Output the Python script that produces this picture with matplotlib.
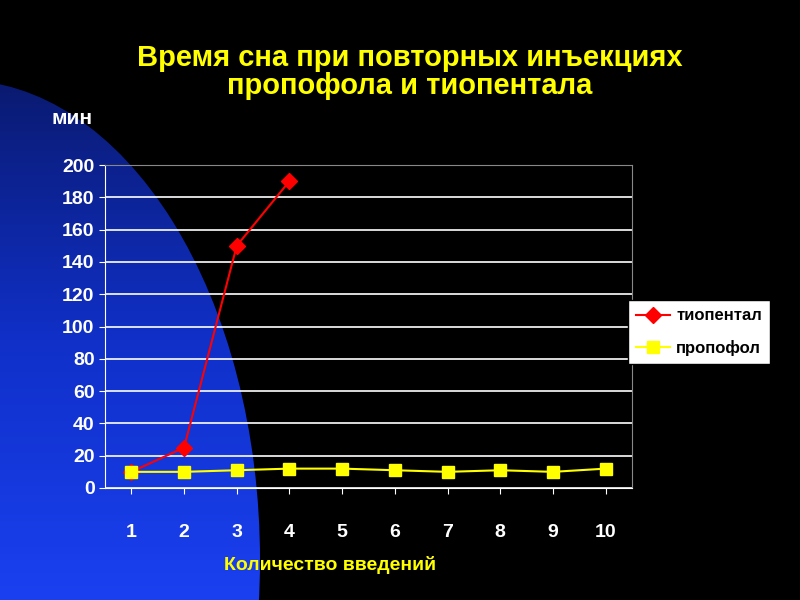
import numpy as np
import matplotlib
matplotlib.use("Agg")
import matplotlib.pyplot as plt
from matplotlib.patches import Ellipse

categories = [1, 2, 3, 4, 5, 6, 7, 8, 9, 10]
thiopental = [10, 25, 150, 190]
propofol = [10, 10, 11, 12, 12, 11, 10, 11, 10, 12]
yticks = [0, 20, 40, 60, 80, 100, 120, 140, 160, 180, 200]

plt.rcParams['font.family'] = ['Liberation Sans', 'DejaVu Sans']
fig = plt.figure(figsize=(8, 6), dpi=100, facecolor='black')

bg = fig.add_axes([0, 0, 1, 1])
bg.set_xlim(0, 800); bg.set_ylim(600, 0); bg.axis('off')
grad = np.linspace(0, 1, 256).reshape(-1, 1)
cmap = matplotlib.colors.LinearSegmentedColormap.from_list('b', ['#0a1a70', '#1030c8', '#1a40f0'])
im = bg.imshow(grad[::-1], extent=[0, 800, 80, 600], cmap=cmap, aspect='auto', zorder=0)
ell = Ellipse((-40, 560), 600, 960, transform=bg.transData, facecolor='none', edgecolor='none')
bg.add_patch(ell)
im.set_clip_path(ell)

ax = fig.add_axes([105/800, 1-488/600, (632-105)/800, (488-165)/600])
ax.set_facecolor('none')
ax.set_xlim(0.5, 10.5)
ax.set_ylim(0, 200)
ax.set_yticks(yticks)
ax.set_xticks(categories)
ax.grid(axis='y', color='white', lw=1.2)
ax.set_axisbelow(True)
for s in ['top', 'right']:
    ax.spines[s].set_color('#888888')
for s in ['left', 'bottom']:
    ax.spines[s].set_color('white')
ax.tick_params(colors='white', labelsize=14, length=4)
for lab in ax.get_xticklabels() + ax.get_yticklabels():
    lab.set_fontweight('bold')
ax.tick_params(axis='x', pad=22)

ax.plot(categories[:len(thiopental)], thiopental, color='#ff0000', marker='D', ms=8, lw=1.5, label='тиопентал', zorder=3)
ax.plot(categories, propofol, color='#ffff00', marker='s', ms=9, lw=1.5, label='пропофол', zorder=3)

leg = fig.legend(loc='upper left', bbox_to_anchor=(628/800, 1-300/600), frameon=True, fancybox=False,
                 fontsize=12, handlelength=2.0, handletextpad=0.4, borderpad=0.5, labelspacing=1.0,
                 borderaxespad=0, framealpha=1)
leg.get_frame().set_facecolor('white'); leg.get_frame().set_edgecolor('black')
for t in leg.get_texts():
    t.set_fontweight('bold')

fig.text(410/800, 1-72/600, 'Время сна при повторных инъекциях\nпропофола и тиопентала', color='#ffff00',
         ha='center', va='center', fontsize=21, fontweight='bold', linespacing=1.0)
fig.text(72/800, 1-118/600, 'мин', color='white', ha='center', va='center', fontsize=15, fontweight='bold')
fig.text(330/800, 1-565/600, 'Количество введений', color='#ffff00', ha='center', va='center', fontsize=14, fontweight='bold')

fig.savefig('out.png', dpi=100, facecolor='black')
